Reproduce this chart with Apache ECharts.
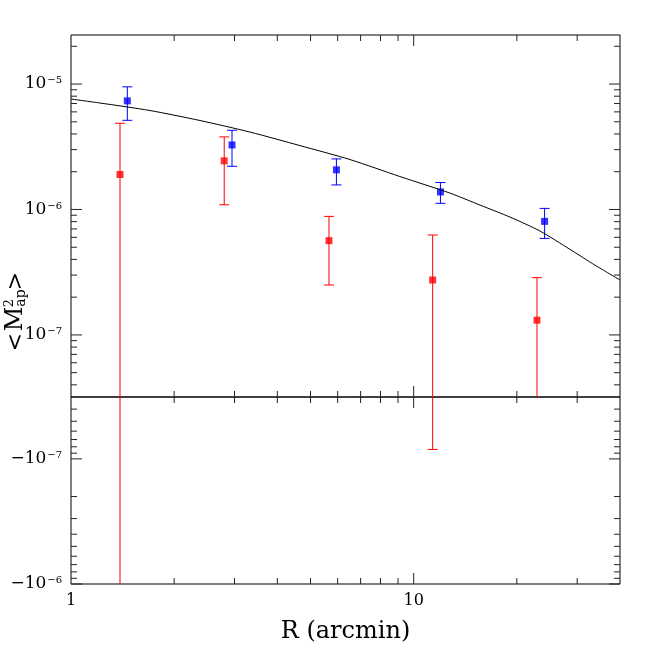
<!DOCTYPE html>
<html>
<head>
<meta charset="utf-8">
<script src="https://cdn.jsdelivr.net/npm/echarts@6/dist/echarts.min.js"></script>
<style>
html, body { margin: 0; padding: 0; background: #fff; }
#main { width: 654px; height: 654px; }
</style>
</head>
<body>
<div id="main"></div>
<script>
// model curve
var CURVE_R = [1.0, 1.215, 1.70, 2.379, 3.33, 4.658, 6.52, 9.12, 12.76, 15.62, 19.1, 23.37, 28.58, 33.81, 40];
var CURVE_M = [7.59e-6, 7.06e-6, 6.15e-6, 5.12e-6, 4.14e-6, 3.23e-6, 2.50e-6, 1.83e-6, 1.351e-6,
               1.084e-6, 8.70e-7, 6.73e-7, 4.81e-7, 3.60e-7, 2.74e-7];

// blue points
var BLUE_R  = [1.46, 2.95, 5.95, 11.97, 24.1];
var BLUE_M  = [7.34e-6, 3.27e-6, 2.07e-6, 1.38e-6, 8.04e-7];
var BLUE_HI = [9.5e-6, 4.28e-6, 2.53e-6, 1.64e-6, 1.02e-6];
var BLUE_LO = [5.14e-6, 2.21e-6, 1.57e-6, 1.12e-6, 5.88e-7];

// red points (lower ends can be negative)
var RED_R  = [1.39, 2.80, 5.66, 11.36, 22.9];
var RED_M  = [1.90e-6, 2.44e-6, 5.64e-7, 2.74e-7, 1.31e-7];
var RED_HI = [4.87e-6, 3.79e-6, 8.81e-7, 6.26e-7, 2.86e-7];
var RED_LO = [-3e-6, 1.09e-6, 2.50e-7, -8.4e-8, -1e-8];

// axis ranges
var X_MIN = 1, X_MAX = 40;
var THR = 3.2e-8;        // |y| where the two log panels meet
var Y_TOP = 2.46e-5;     // top of upper panel
var Y_BOT = 1e-6;        // -1e-6 at bottom of lower panel

// ticks and labels
var X_MAJOR = [10];
var X_MINOR = [2, 3, 4, 5, 6, 7, 8, 9, 20, 30];
var X_LABELS = [1, 10];
var MANT = [2, 3, 4, 5, 6, 7, 8, 9];
var Y_MAJOR_UP = [1e-7, 1e-6, 1e-5];
var Y_MAJOR_LOW = [1e-7, 1e-6];
var Y_LABEL_EXP_UP = [-7, -6, -5];
var Y_LABEL_EXP_LOW = [-7, -6];

var FONT = 'DejaVu Serif';
var MAJOR_LEN = 11, MINOR_LEN = 6, CAP = 5;

function minorTicks(lo, hi) {
    var out = [];
    for (var e = -9; e <= -4; e++) {
        MANT.forEach(function (m) {
            var v = m * Math.pow(10, e);
            if (v > lo * 1.0001 && v < hi * 0.9999) out.push(v);
        });
    }
    return out;
}

function tickData(majorY, minorY) {
    var d = [];
    minorY.forEach(function (v) { d.push([X_MIN, v, 0]); });
    majorY.forEach(function (v) { d.push([X_MIN, v, 1]); });
    X_MINOR.forEach(function (v) { d.push([v, THR, 2]); });
    X_MAJOR.forEach(function (v) { d.push([v, THR, 3]); });
    return d;
}

function seg(x1, y1, x2, y2, color) {
    return {
        type: 'line',
        shape: { x1: x1, y1: y1, x2: x2, y2: y2 },
        style: { stroke: color, lineWidth: 1 }
    };
}

function tickRenderer(yEnds) {
    return function (params, api) {
        var x = api.value(0), y = api.value(1), kind = api.value(2);
        var len = kind % 2 ? MAJOR_LEN : MINOR_LEN;
        var a, b;
        if (kind < 2) {
            a = api.coord([X_MIN, y]);
            b = api.coord([X_MAX, y]);
        } else {
            a = api.coord([x, yEnds[0]]);
            b = api.coord([x, yEnds[1]]);
        }
        var dx = Math.sign(b[0] - a[0]), dy = Math.sign(b[1] - a[1]);
        return {
            type: 'group',
            children: [
                seg(a[0], a[1], a[0] + dx * len, a[1] + dy * len, '#222'),
                seg(b[0], b[1], b[0] - dx * len, b[1] - dy * len, '#222')
            ]
        };
    };
}

// split error bars over the two panels: [x, a, b, capA, capB]
function splitBars(R, LO, HI) {
    var up = [], low = [];
    R.forEach(function (x, i) {
        var lo = LO[i], hi = HI[i];
        if (hi > THR) {
            up.push([x, Math.max(lo, THR), Math.min(hi, Y_TOP), lo >= THR ? 1 : 0, hi <= Y_TOP ? 1 : 0]);
        }
        if (lo < -THR) {
            var a = hi > -THR ? THR : -hi;
            low.push([x, a, Math.min(-lo, Y_BOT), hi <= -THR ? 1 : 0, -lo <= Y_BOT ? 1 : 0]);
        }
    });
    return { up: up, low: low };
}

function errorRenderer(color) {
    return function (params, api) {
        var x = api.value(0);
        var pa = api.coord([x, api.value(1)]);
        var pb = api.coord([x, api.value(2)]);
        var ch = [seg(pa[0], pa[1], pb[0], pb[1], color)];
        if (api.value(3)) ch.push(seg(pa[0] - CAP, pa[1], pa[0] + CAP, pa[1], color));
        if (api.value(4)) ch.push(seg(pb[0] - CAP, pb[1], pb[0] + CAP, pb[1], color));
        return { type: 'group', children: ch };
    };
}

function pairs(xs, ys) {
    return xs.map(function (x, i) { return [x, ys[i]]; });
}

function expOf(v) {
    var l = Math.log10(v), e = Math.round(l);
    return Math.abs(l - e) < 1e-6 ? e : null;
}

function titleText(text, x, y, size) {
    return {
        type: 'text',
        style: {
            text: text, x: x, y: y, fill: '#000', fontFamily: FONT, fontSize: size,
            align: 'center', verticalAlign: 'middle'
        }
    };
}

var RICH = {
    b: { fontFamily: FONT, fontSize: 17, color: '#000' },
    s: { fontFamily: FONT, fontSize: 10, color: '#000', verticalAlign: 'top', padding: [0, 0, 0, 1] }
};

var redBars = splitBars(RED_R, RED_LO, RED_HI);
var blueBars = splitBars(BLUE_R, BLUE_LO, BLUE_HI);

var chart = echarts.init(document.getElementById('main'));

var option = {
    animation: false,
    backgroundColor: '#fff',
    grid: [
        { left: 71, top: 35, width: 549, height: 362, show: true, borderColor: '#000', borderWidth: 1, outerBoundsMode: 'none' },
        { left: 71, top: 397, width: 549, height: 187, show: true, borderColor: '#000', borderWidth: 1, outerBoundsMode: 'none' }
    ],
    xAxis: [
        {
            gridIndex: 0, type: 'log', min: X_MIN, max: X_MAX,
            axisLine: { show: false }, axisTick: { show: false },
            axisLabel: { show: false }, splitLine: { show: false }
        },
        {
            gridIndex: 1, type: 'log', min: X_MIN, max: X_MAX,
            axisLine: { show: false }, axisTick: { show: false }, splitLine: { show: false },
            axisLabel: {
                margin: 9, fontFamily: FONT, fontSize: 16, color: '#000',
                formatter: function (v) {
                    var e = expOf(v);
                    return e !== null && X_LABELS.indexOf(Math.pow(10, e)) >= 0 ? String(Math.pow(10, e)) : '';
                }
            },
            name: 'R (arcmin)', nameLocation: 'middle', nameGap: 36,
            nameTextStyle: { fontFamily: FONT, fontSize: 24, color: '#000' }
        }
    ],
    yAxis: [
        {
            gridIndex: 0, type: 'log', min: THR, max: Y_TOP,
            axisLine: { show: false }, axisTick: { show: false }, splitLine: { show: false },
            axisLabel: {
                margin: 9, rich: RICH,
                formatter: function (v) {
                    var e = expOf(v);
                    return e !== null && Y_LABEL_EXP_UP.indexOf(e) >= 0 ? '{b|10}{s|−' + (-e) + '}' : '';
                }
            }
        },
        {
            gridIndex: 1, type: 'log', min: THR, max: Y_BOT, inverse: true,
            axisLine: { show: false }, axisTick: { show: false }, splitLine: { show: false },
            axisLabel: {
                margin: 9, rich: RICH,
                formatter: function (v) {
                    var e = expOf(v);
                    return e !== null && Y_LABEL_EXP_LOW.indexOf(e) >= 0 ? '{b|−10}{s|−' + (-e) + '}' : '';
                }
            }
        }
    ],
    graphic: [
        {
            // <M^2_ap >, rotated to read upward
            type: 'group', x: 16, y: 311, rotation: Math.PI / 2,
            children: [
                titleText('<', -31, 0, 22),
                titleText('M', -8, 0, 24),
                titleText('2', 8, -6, 13),
                titleText('ap', 13, 5, 14),
                titleText('>', 30, 0, 22)
            ]
        }
    ],
    series: [
        {
            type: 'custom', xAxisIndex: 0, yAxisIndex: 0, clip: false, silent: true,
            renderItem: tickRenderer([THR, Y_TOP]),
            encode: { x: 0, y: 1 },
            data: tickData(Y_MAJOR_UP, minorTicks(THR, Y_TOP))
        },
        {
            type: 'custom', xAxisIndex: 1, yAxisIndex: 1, clip: false, silent: true,
            renderItem: tickRenderer([THR, Y_BOT]),
            encode: { x: 0, y: 1 },
            data: tickData(Y_MAJOR_LOW, minorTicks(THR, Y_BOT))
        },
        {
            type: 'line', xAxisIndex: 0, yAxisIndex: 0,
            data: pairs(CURVE_R, CURVE_M),
            showSymbol: false, symbol: 'none', smooth: 0.25,
            lineStyle: { color: '#000', width: 1 }
        },
        {
            type: 'custom', xAxisIndex: 0, yAxisIndex: 0, clip: false,
            renderItem: errorRenderer('#ff0000'),
            encode: { x: 0, y: [1, 2] },
            data: redBars.up
        },
        {
            type: 'custom', xAxisIndex: 1, yAxisIndex: 1, clip: false,
            renderItem: errorRenderer('#ff0000'),
            encode: { x: 0, y: [1, 2] },
            data: redBars.low
        },
        {
            type: 'custom', xAxisIndex: 0, yAxisIndex: 0, clip: false,
            renderItem: errorRenderer('#0000ff'),
            encode: { x: 0, y: [1, 2] },
            data: blueBars.up
        },
        {
            type: 'scatter', xAxisIndex: 0, yAxisIndex: 0,
            symbol: 'rect', symbolSize: 7,
            itemStyle: { color: '#ff0000' },
            data: pairs(RED_R, RED_M)
        },
        {
            type: 'scatter', xAxisIndex: 0, yAxisIndex: 0,
            symbol: 'rect', symbolSize: 7,
            itemStyle: { color: '#0000ff' },
            data: pairs(BLUE_R, BLUE_M)
        }
    ]
};

chart.setOption(option);
</script>
</body>
</html>
